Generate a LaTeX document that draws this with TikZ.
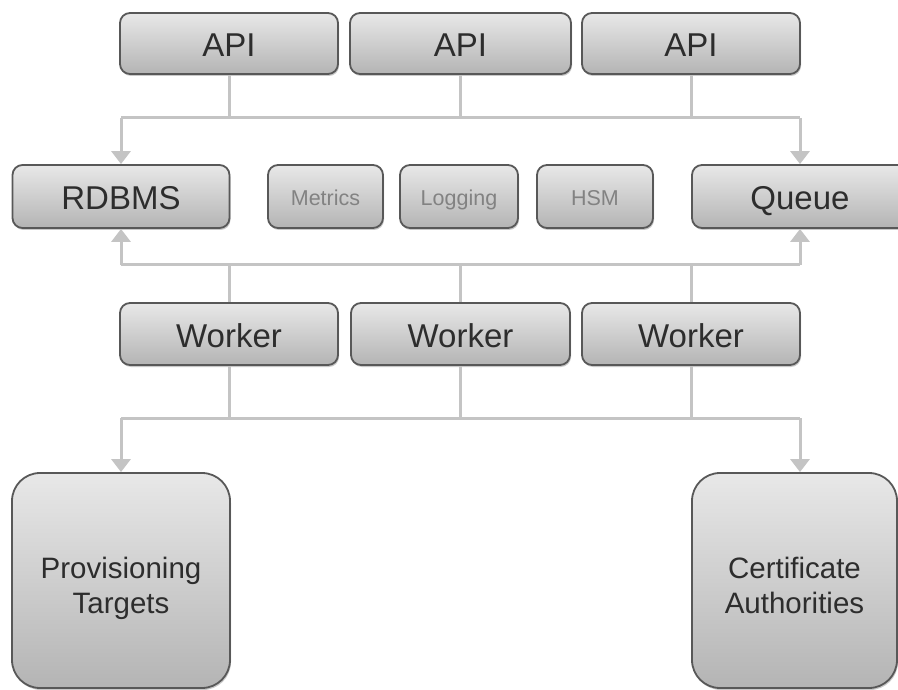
\documentclass[tikz,border=0pt]{standalone}
\usepackage{fontspec}
\setmainfont{Liberation Sans}
\usetikzlibrary{arrows.meta,shadows}
\definecolor{boxline}{RGB}{88,88,88}
\definecolor{boxtop}{RGB}{232,232,232}
\definecolor{boxbottom}{RGB}{180,180,180}
\definecolor{boxtext}{RGB}{45,45,45}
\definecolor{minortext}{RGB}{130,130,130}
\definecolor{linkgray}{RGB}{196,196,196}
\newcommand{\boxlines}[1]{\begin{tabular}{@{}c@{}}#1\end{tabular}}
\tikzset{
  box/.style={draw=boxline, line width=1.8pt, rounded corners=10pt, top color=boxtop, bottom color=boxbottom,
    drop shadow={shadow xshift=1pt, shadow yshift=-2pt, opacity=0.3, fill=black!70},
    text=boxtext, inner sep=0pt, text height=27pt, text depth=0pt, font=\fontsize{33}{38}\selectfont},
  minorbox/.style={box, text=minortext, text height=19pt, text depth=0pt, font=\fontsize{21.5}{24}\selectfont},
  bigbox/.style={box, rounded corners=28pt, text height=50pt, text depth=20pt, font=\fontsize{29.5}{35}\selectfont},
  link/.style={draw=linkgray, line width=3pt},
  feed/.style={link, -{Triangle[width=19pt,length=13pt]}},
}
\begin{document}
\begin{tikzpicture}[x=1pt,y=1pt,yscale=-1,xscale=1]
\useasboundingbox (0,0) rectangle (898,690);
\clip (0,0) rectangle (898,690);
% bus levels
\coordinate (topbus) at (0,118);
\coordinate (midbus) at (0,265);
\coordinate (lowbus) at (0,418);
% boxes
\node [box, minimum width=218pt, minimum height=61pt] (api1) at (229,43.5) {API};
\node [box, minimum width=221pt, minimum height=61pt] (api2) at (460.5,43.5) {API};
\node [box, minimum width=218pt, minimum height=61pt] (api3) at (691,43.5) {API};
\node [box, minimum width=217pt, minimum height=63pt] (rdbms) at (121,196.5) {RDBMS};
\node [minorbox, minimum width=115pt, minimum height=63pt] (metrics) at (325.5,196.5) {Metrics};
\node [minorbox, minimum width=118pt, minimum height=63pt] (logging) at (459,196.5) {Logging};
\node [minorbox, minimum width=116pt, minimum height=63pt] (hsm) at (595,196.5) {HSM};
\node [box, minimum width=216pt, minimum height=63pt] (queue) at (800,196.5) {Queue};
\node [box, minimum width=218pt, minimum height=62pt] (worker1) at (229,334) {Worker};
\node [box, minimum width=219pt, minimum height=62pt] (worker2) at (460.5,334) {Worker};
\node [box, minimum width=218pt, minimum height=62pt] (worker3) at (691,334) {Worker};
\node [bigbox, minimum width=218pt, minimum height=215pt] (prov) at (121,580.5) {\boxlines{Provisioning\\Targets}};
\node [bigbox, minimum width=205pt, minimum height=215pt] (ca) at (794.5,580.5) {\boxlines{Certificate\\Authorities}};
% API to RDBMS and Queue
\draw [link] (rdbms.north |- topbus) -- (queue.north |- topbus);
\foreach \n in {api1,api2,api3}
  \draw [link] (\n.south) -- (\n.south |- topbus);
\draw [feed] (rdbms.north |- topbus) -- (rdbms.north);
\draw [feed] (queue.north |- topbus) -- (queue.north);
% workers to RDBMS and Queue
\draw [link] (rdbms.south |- midbus) -- (queue.south |- midbus);
\foreach \n in {worker1,worker2,worker3}
  \draw [link] (\n.north) -- (\n.north |- midbus);
\draw [feed] (rdbms.south |- midbus) -- (rdbms.south);
\draw [feed] (queue.south |- midbus) -- (queue.south);
% workers to targets and CAs
\draw [link] (prov.north |- lowbus) -- (queue.south |- lowbus);
\foreach \n in {worker1,worker2,worker3}
  \draw [link] (\n.south) -- (\n.south |- lowbus);
\draw [feed] (prov.north |- lowbus) -- (prov.north);
\draw [feed] (queue.south |- lowbus) -- (queue.south |- ca.north);
\end{tikzpicture}
\end{document}
